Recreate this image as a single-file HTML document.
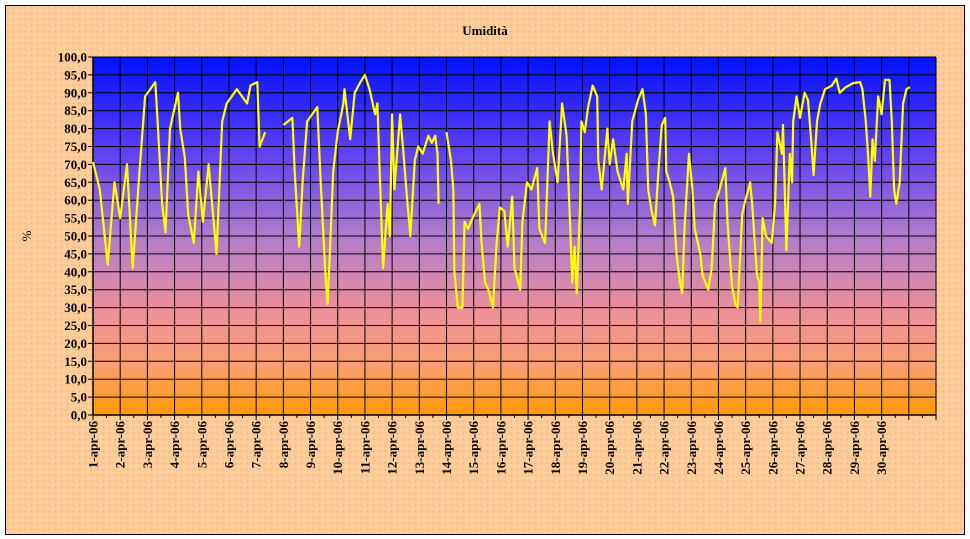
<!DOCTYPE html>
<html><head><meta charset="utf-8"><style>
body{margin:0;background:#fff}
svg{display:block}
text{font-family:"Liberation Serif",serif;font-weight:bold;fill:#000}
</style></head><body>
<svg id="chart" width="970" height="539" xmlns="http://www.w3.org/2000/svg">
<defs>
<pattern id="dots" width="6" height="6" patternUnits="userSpaceOnUse"><rect width="6" height="6" fill="#ffcc99"/><circle cx="1.5" cy="1.5" r="0.7" fill="#f6a878"/><circle cx="4.5" cy="4.5" r="0.7" fill="#fde0a0"/></pattern>
<linearGradient id="bg" x1="0" y1="0" x2="0" y2="1">
<stop offset="0" stop-color="#0010ff"/><stop offset="0.25" stop-color="#5a3cf4"/><stop offset="0.5" stop-color="#b07ccc"/><stop offset="0.72" stop-color="#f09098"/><stop offset="0.86" stop-color="#f8a070"/><stop offset="1" stop-color="#ff9a00"/></linearGradient>
</defs>
<rect x="5.5" y="5.5" width="959" height="529" fill="url(#dots)" stroke="#000" stroke-width="1"/>
<text x="485" y="35" font-size="13" text-anchor="middle">Umidità</text>
<text transform="translate(31,236) rotate(-90)" font-size="13" font-weight="normal" text-anchor="middle" style="font-weight:normal">%</text>
<rect x="93" y="57" width="843" height="358" fill="url(#bg)"/>
<g id="grid"></g><g id="axes"></g><g id="series"></g>
</svg>
<script>
const hours=[0,6,13,19,24,30,35,41,46,55,57,61,64,68,75,77,81,84,89,93,97,102,109,114,118,127,136,139,145,147,152,158,168,176,178,182,185,189,198,201,205,207,209,212,216,221,222,227,231,236,240,244,249,251,253,256,260,262,264,266,271,274,277,280,284,287,291,296,299,302,304,305,308,312,316,318,319,322,326,328,331,335,341,343,346,349,353,356,359,363,366,370,372,377,379,383,387,392,394,399,401,403,406,410,414,418,421,423,425,427,430,431,434,437,441,445,446,449,454,456,459,463,468,471,472,476,481,485,488,490,493,496,499,502,505,506,509,512,515,518,520,522,526,529,531,536,538,543,546,549,553,558,560,564,567,569,573,575,580,582,586,588,589,591,594,599,602,604,608,609,612,615,617,618,621,624,628,631,634,636,639,642,646,652,656,659,664,671,677,679,682,684,686,688,690,693,696,699,703,705,707,709,712,715,718,721];
const humidity=[70.7,63,42,65,55,70,41,68,89,93,82,59,51,80,90,80,72,56,48,68,54,70,45,82,87,91,87,92,93,75,79,null,81,83,68,47,65,82,86,65,40,31,45,68,79,87,91,77,90,93,95,91,84,87,68,41,59,50,84,63,84,73,61,50,71,75,73,78,76,78,73,59,null,79,71,63,40,30,30,54,52,55,59,48,37,35,30,47,58,57,47,61,41,35,54,65,63,69,52,48,65,82,73,65,87,78,54,37,47,34,59,82,79,86,92,89,71,63,80,70,77,68,63,73,59,82,88,91,84,63,57,53,68,81,83,68,65,61,45,37,34,52,73,63,52,45,39,35,41,59,63,69,54,36,31,30,56,59,65,58,39,37,26,55,50,48,59,79,73,81,46,73,65,82,89,83,90,88,76,67,82,87,91,92,94,90,91.5,92.7,93,91,82,73,61,77,71,89,84,93.6,93.6,82,63,59,65,87,91,91.6];
const yTicks=[0,5,10,15,20,25,30,35,40,45,50,55,60,65,70,75,80,85,90,95,100];
const dayLabels=["1-apr-06","2-apr-06","3-apr-06","4-apr-06","5-apr-06","6-apr-06","7-apr-06","8-apr-06","9-apr-06","10-apr-06","11-apr-06","12-apr-06","13-apr-06","14-apr-06","15-apr-06","16-apr-06","17-apr-06","18-apr-06","19-apr-06","20-apr-06","21-apr-06","22-apr-06","23-apr-06","24-apr-06","25-apr-06","26-apr-06","27-apr-06","28-apr-06","29-apr-06","30-apr-06"];
const X0=93,X1=936,Y0=415,Y1=57,NDAYS=31;
const dayW=(X1-X0)/NDAYS;
const xS=h=>X0+h/24*dayW;
const yS=v=>Y0-(v/100)*(Y0-Y1);
const NS="http://www.w3.org/2000/svg";
function mk(tag,attrs,parent){const e=document.createElementNS(NS,tag);for(const k in attrs)e.setAttribute(k,attrs[k]);parent.appendChild(e);return e;}
const grid=document.getElementById('grid'),axes=document.getElementById('axes'),series=document.getElementById('series');
yTicks.forEach(v=>{
  const y=yS(v);
  const l=mk('line',{x1:X0-5,x2:X1,y1:y,y2:y,stroke:'#000','stroke-width':1},grid);
  
  
  const t=mk('text',{x:X0-6,y:y+4.5,'font-size':13,'text-anchor':'end'},axes);
  t.textContent=v.toFixed(1).replace('.',',');
  
  
});
for(let d=0;d<=NDAYS;d++){
  const x=X0+d*dayW;
  const l=mk('line',{x1:x,x2:x,y1:Y1,y2:Y0+5,stroke:'#000','stroke-width':1},grid);
  
  
  if(d<NDAYS){
    const m=mk('line',{x1:x+dayW/2,x2:x+dayW/2,y1:Y0,y2:Y0+3,stroke:'#000','stroke-width':1},axes);
    
    
  }
}
dayLabels.forEach((s,i)=>{
  const x=X0+i*dayW;
  const t=mk('text',{transform:`translate(${x+4.5},421) rotate(-90)`,'font-size':13,'text-anchor':'end'},axes);
  t.textContent=s;
  
  
});
mk('line',{x1:X0,x2:X0,y1:Y1,y2:Y0,stroke:'#000','stroke-width':1.5},axes);
mk('line',{x1:X0,x2:X1,y1:Y0,y2:Y0,stroke:'#000','stroke-width':1.5},axes);
let d='',pen=false;
hours.forEach((h,i)=>{
  const v=humidity[i];
  if(v===null){pen=false;return;}
  d+=(pen?'L':'M')+xS(h).toFixed(1)+' '+yS(v).toFixed(1)+' ';
  pen=true;
});
const p=mk('path',{d:d,fill:'none',stroke:'#ffff00','stroke-width':2.2,'stroke-linejoin':'round'},series);


</script>
</body></html>
